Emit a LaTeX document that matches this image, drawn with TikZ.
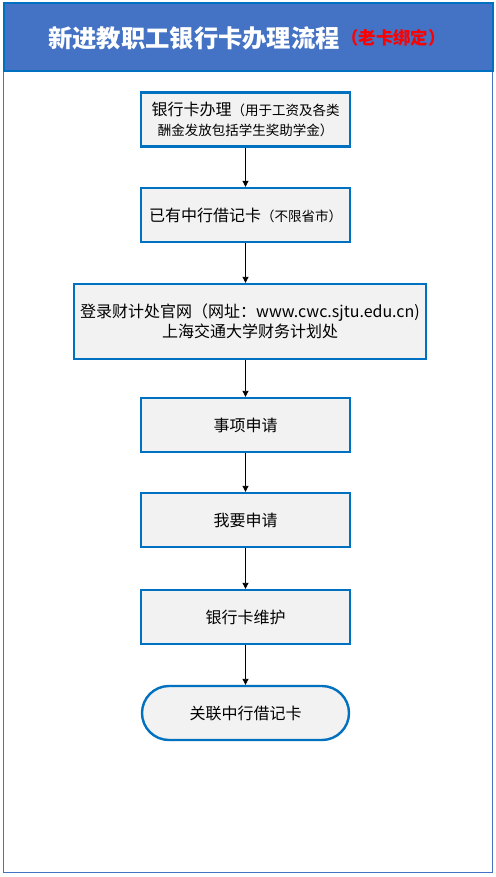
\documentclass[tikz,border=0pt]{standalone}
\usepackage{fontspec}
\setmainfont{Noto Sans CJK SC}
\usetikzlibrary{arrows.meta,shapes.misc}
\definecolor{hdrfill}{HTML}{4472C4}
\definecolor{bord}{HTML}{0070C0}
\definecolor{boxfill}{HTML}{F2F2F2}
\tikzset{
  stepbox/.style={draw=bord, line width=2.4pt, fill=boxfill, minimum width=209pt, minimum height=54pt, inner sep=1pt, align=center, font=\fontsize{16}{20}\selectfont},
  endbox/.style={stepbox, rounded rectangle},
  conn/.style={-{Triangle[length=6pt,width=6pt]}, line width=0.9pt, black},
}
\newcommand{\smalltxt}{\fontsize{13.5}{20}\selectfont}
\begin{document}
\begin{tikzpicture}[x=1pt,y=-1pt]
\useasboundingbox (0,0) rectangle (495,877);
\fill[white] (0,0) rectangle (495,877);
\draw[hdrfill, line width=1.2pt] (3.5,70) rectangle (492.5,872.5);
\node[draw=bord, line width=2pt, fill=hdrfill, minimum width=489pt, minimum height=68pt, inner sep=0pt] (hdr) at (248,37) {};
\node[font=\fontsize{24.3}{28}\selectfont\bfseries, text=white, inner sep=0pt, anchor=west] (title) at (48,38) {新进教职工银行卡办理流程};
\node[font=\fontsize{17.4}{20}\selectfont\bfseries, text=red, inner sep=0pt, anchor=west] (sub) at ([xshift=1pt]title.east) {（老卡绑定）};
\node[stepbox] (b1) at (245.5,119.5) {银行卡办理{\smalltxt（用于工资及各类}\\{\smalltxt 酬金发放包括学生奖助学金）}};
\node[stepbox] (b2) at (245.5,215) {已有中行借记卡{\smalltxt（不限省市）}};
\node[stepbox, minimum width=352pt, minimum height=75pt] (b3) at (250,321.5) {登录财计处官网（网址：www.cwc.sjtu.edu.cn)\\上海交通大学财务计划处};
\node[stepbox] (b4) at (245.5,425) {事项申请};
\node[stepbox] (b5) at (245.5,520) {我要申请};
\node[stepbox] (b6) at (245.5,617) {银行卡维护};
\node[endbox] (b7) at (245.5,713) {关联中行借记卡};
\draw[conn] (b1.south -| 245.5,0) -- (b2.north -| 245.5,0);
\draw[conn] (b2) -- (b2 |- b3.north);
\draw[conn] (b2 |- b3.south) -- (b4);
\draw[conn] (b4) -- (b5);
\draw[conn] (b5) -- (b6);
\draw[conn] (b6) -- (b7);
\end{tikzpicture}
\end{document}
